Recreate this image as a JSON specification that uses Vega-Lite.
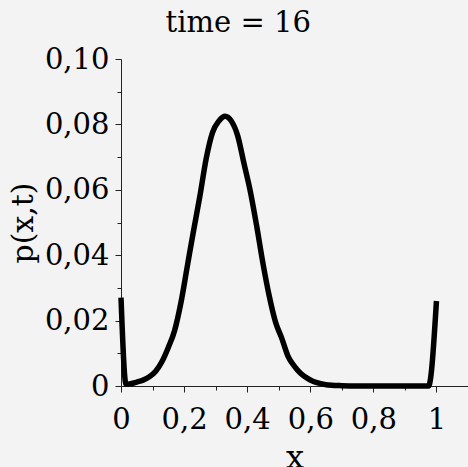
{
  "$schema": "https://vega.github.io/schema/vega-lite/v6.json",
  "width": 347,
  "height": 327,
  "autosize": {"type": "none"},
  "padding": {"left": 121, "top": 59, "right": 0, "bottom": 81},
  "background": "#f3f3f3",
  "config": {
    "view": {"stroke": null},
    "axis": {
      "grid": false,
      "domainColor": "#222",
      "domainWidth": 1,
      "tickColor": "#222",
      "tickWidth": 1,
      "labelFont": "DejaVu Serif",
      "labelFontSize": 29,
      "labelColor": "#000",
      "labelOverlap": false,
      "labelFlush": false,
      "labelBound": false,
      "titleFont": "DejaVu Serif",
      "titleFontWeight": "normal",
      "titleColor": "#000"
    }
  },
  "title": {
    "text": "time = 16",
    "font": "DejaVu Serif",
    "fontSize": 29,
    "fontWeight": "normal",
    "color": "#000",
    "anchor": "middle",
    "frame": "bounds",
    "offset": 7
  },
  "data": {
    "values": [
      {"x": 0, "p": 0.027},
      {"x": 0.016, "p": 0.0005},
      {"x": 0.03, "p": 0.0007},
      {"x": 0.05, "p": 0.0012},
      {"x": 0.07, "p": 0.0018},
      {"x": 0.09, "p": 0.0028},
      {"x": 0.11, "p": 0.0045},
      {"x": 0.13, "p": 0.0075},
      {"x": 0.15, "p": 0.0118},
      {"x": 0.17, "p": 0.017},
      {"x": 0.19, "p": 0.0255},
      {"x": 0.21, "p": 0.0365},
      {"x": 0.23, "p": 0.0475},
      {"x": 0.25, "p": 0.058},
      {"x": 0.27, "p": 0.0695},
      {"x": 0.29, "p": 0.0775},
      {"x": 0.31, "p": 0.081},
      {"x": 0.33, "p": 0.0825},
      {"x": 0.35, "p": 0.081},
      {"x": 0.37, "p": 0.0765},
      {"x": 0.39, "p": 0.068},
      {"x": 0.41, "p": 0.0595},
      {"x": 0.43, "p": 0.049},
      {"x": 0.45, "p": 0.0375},
      {"x": 0.47, "p": 0.0275},
      {"x": 0.49, "p": 0.0195},
      {"x": 0.51, "p": 0.0145},
      {"x": 0.53, "p": 0.009},
      {"x": 0.55, "p": 0.006},
      {"x": 0.57, "p": 0.0038},
      {"x": 0.59, "p": 0.0024},
      {"x": 0.61, "p": 0.0014},
      {"x": 0.63, "p": 0.0008},
      {"x": 0.65, "p": 0.0004},
      {"x": 0.7, "p": 0.0001},
      {"x": 0.75, "p": 0},
      {"x": 0.975, "p": 0},
      {"x": 1.0, "p": 0.026}
    ]
  },
  "resolve": {"axis": {"x": "independent", "y": "independent"}},
  "layer": [
    {
      "mark": {"type": "line", "strokeOpacity": 0},
      "encoding": {
        "x": {
          "field": "x", "type": "quantitative",
          "scale": {"domain": [0, 1.1], "nice": false, "zero": false},
          "axis": {"orient": "bottom", "values": [0.1, 0.3, 0.5, 0.7, 0.9], "labels": false, "tickSize": 4, "domain": false, "title": null}
        },
        "y": {
          "field": "p", "type": "quantitative",
          "scale": {"domain": [0, 0.1], "nice": false},
          "axis": {"orient": "left", "values": [0.01, 0.03, 0.05, 0.07, 0.09], "labels": false, "tickSize": 4, "domain": false, "title": null}
        }
      }
    },
    {
      "mark": {"type": "line", "color": "#000", "strokeWidth": 5.5, "interpolate": "monotone"},
      "encoding": {
        "x": {
          "field": "x", "type": "quantitative",
          "scale": {"domain": [0, 1.1], "nice": false, "zero": false},
          "axis": {
            "orient": "bottom",
            "values": [0, 0.2, 0.4, 0.6, 0.8, 1],
            "tickSize": 6,
            "labelPadding": 13,
            "labelExpr": "datum.value == 0 ? '0' : datum.value == 1 ? '1' : replace(format(datum.value, '.1f'), '.', ',')",
            "title": "x",
            "titleFontSize": 32,
            "titlePadding": 8
          }
        },
        "y": {
          "field": "p", "type": "quantitative",
          "scale": {"domain": [0, 0.1], "nice": false},
          "axis": {
            "orient": "left",
            "values": [0, 0.02, 0.04, 0.06, 0.08, 0.1],
            "tickSize": 6,
            "labelPadding": 6,
            "labelExpr": "datum.value == 0 ? '0' : replace(format(datum.value, '.2f'), '.', ',')",
            "title": "p(x,t)",
            "titleFontSize": 30,
            "titlePadding": 6
          }
        }
      }
    }
  ]
}
